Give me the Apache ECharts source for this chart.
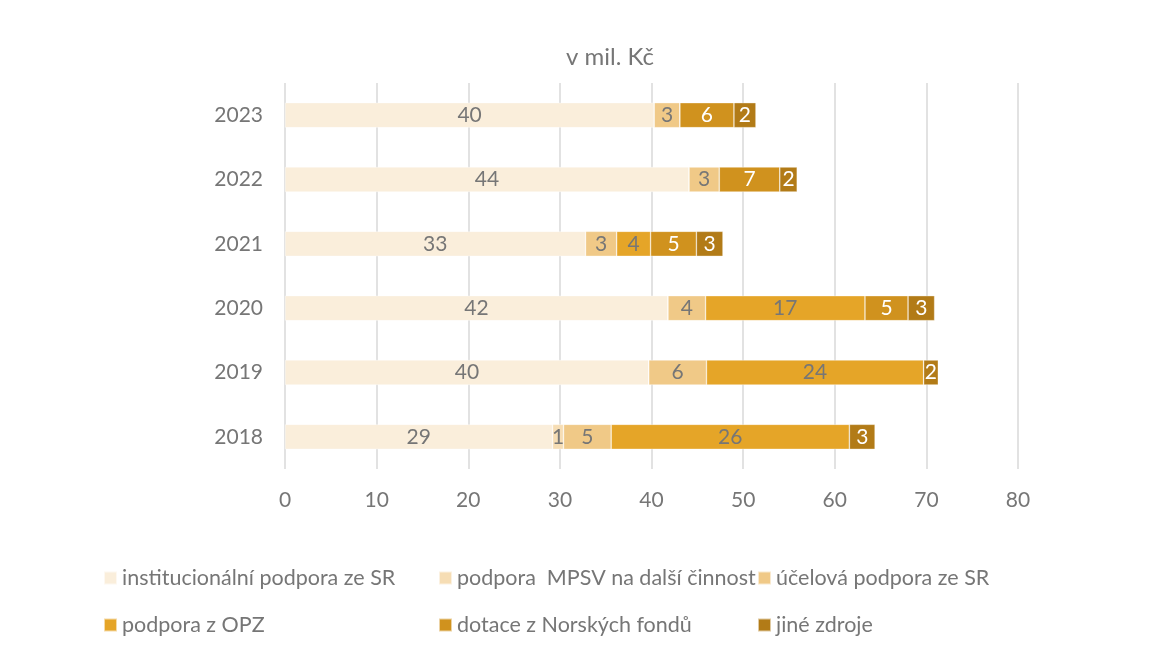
<!DOCTYPE html>
<html>
<head>
<meta charset="utf-8">
<script src="https://cdn.jsdelivr.net/npm/echarts@6/dist/echarts.min.js"></script>
<style>html,body{margin:0;padding:0;background:#fff}#c{width:1171px;height:652px}</style>
</head>
<body>
<div id="c"></div>
<script>
var years = ['2018', '2019', '2020', '2021', '2022', '2023'];
var seriesNames = ['institucionální podpora ze SR', 'podpora  MPSV na další činnost', 'účelová podpora ze SR', 'podpora z OPZ', 'dotace z Norských fondů', 'jiné zdroje'];
var institucionalni = [29.2, 39.7, 41.8, 32.8, 44.1, 40.3];
var mpsv = [1.2, 0, 0, 0, 0, 0];
var ucelova = [5.2, 6.3, 4.1, 3.4, 3.3, 2.8];
var opz = [26.0, 23.7, 17.4, 3.7, 0, 0];
var norske = [0, 0, 4.7, 5.0, 6.6, 5.9];
var jine = [2.8, 1.6, 2.9, 2.9, 1.9, 2.4];
var xTicks = [0, 10, 20, 30, 40, 50, 60, 70, 80];

var values = [institucionalni, mpsv, ucelova, opz, norske, jine];
var colors = ['#FAEEDB', '#F6DDB4', '#F0C987', '#E5A528', '#D0921E', '#B27B17'];
var labelColors = ['#767676', '#767676', '#767676', '#767676', '#ffffff', '#ffffff'];
var FONT = 'Lato';

var series = seriesNames.map(function (n, i) {
  return {
    name: n,
    type: 'bar',
    stack: 'total',
    barWidth: 25,
    data: values[i],
    itemStyle: { color: colors[i], borderColor: 'rgba(255,255,255,0.6)', borderWidth: 0.6 },
    label: {
      show: true,
      position: 'inside',
      color: labelColors[i],
      fontFamily: FONT,
      fontSize: 21,
      formatter: function (p) { return p.value > 0 ? Math.round(p.value) : ''; }
    }
  };
});

var legendPos = [[98, 562], [433, 562], [752, 562], [98, 609], [433, 609], [752, 609]];
var legends = seriesNames.map(function (n, i) {
  return {
    data: [n],
    left: legendPos[i][0],
    top: legendPos[i][1],
    icon: 'rect',
    itemWidth: 13,
    itemHeight: 13,
    itemGap: 5,
    selectedMode: false,
    textStyle: { color: '#767676', fontFamily: FONT, fontSize: 21.5 }
  };
});

var chart = echarts.init(document.getElementById('c'), null, { renderer: 'canvas' });
chart.setOption({
  animation: false,
  title: {
    text: 'v mil. Kč',
    left: 561,
    top: 40,
    textStyle: { color: '#767676', fontFamily: FONT, fontSize: 24, fontWeight: 'normal' }
  },
  legend: legends,
  grid: { left: 285, right: 153, top: 83, bottom: 183, containLabel: false },
  xAxis: {
    type: 'value',
    min: xTicks[0],
    max: xTicks[xTicks.length - 1],
    interval: 10,
    axisLine: { show: false },
    axisTick: { show: false },
    splitLine: { show: true, lineStyle: { color: '#D9D9D9', width: 1.5 } },
    axisLabel: { color: '#767676', fontFamily: FONT, fontSize: 21, margin: 21 }
  },
  yAxis: {
    type: 'category',
    data: years,
    axisLine: { show: false },
    axisTick: { show: false },
    axisLabel: { color: '#767676', fontFamily: FONT, fontSize: 21, margin: 22 }
  },
  series: series
});
</script>
</body>
</html>
